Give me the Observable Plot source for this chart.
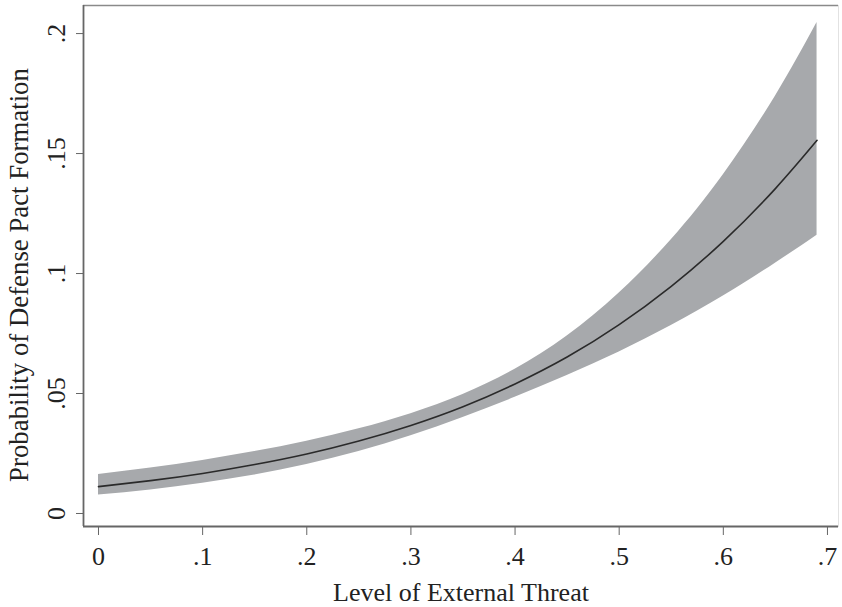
<!DOCTYPE html>
<html>
<head>
<meta charset="utf-8">
<script src="https://cdn.jsdelivr.net/npm/d3@7"></script>
<script src="https://cdn.jsdelivr.net/npm/@observablehq/plot@0.6"></script>
<style>
  html, body { margin: 0; padding: 0; background: #fff; }
</style>
</head>
<body>
<div id="chart"></div>
<script>
// Level of external threat (x)
const threat = [0, 0.05, 0.10, 0.15, 0.20, 0.25, 0.30, 0.35, 0.40, 0.45, 0.50, 0.55, 0.60, 0.65, 0.69];
// Predicted probability of defense pact formation
const prob   = [0.0112, 0.0137, 0.0167, 0.0204, 0.0248, 0.0302, 0.0367, 0.0445, 0.0540, 0.0652, 0.0787, 0.0947, 0.1134, 0.1354, 0.1555];
// 95% confidence band
const lower  = [0.0077, 0.0098, 0.0126, 0.0160, 0.0204, 0.0258, 0.0324, 0.0400, 0.0484, 0.0575, 0.0673, 0.0783, 0.0906, 0.1043, 0.1160];
const upper  = [0.0163, 0.0190, 0.0221, 0.0258, 0.0301, 0.0353, 0.0416, 0.0496, 0.0601, 0.0740, 0.0919, 0.1141, 0.1412, 0.1739, 0.2046];

const xTicks = [0, 0.1, 0.2, 0.3, 0.4, 0.5, 0.6, 0.7];
const xTickLabels = ["0", ".1", ".2", ".3", ".4", ".5", ".6", ".7"];
const yTicks = [0, 0.05, 0.1, 0.15, 0.2];
const yTickLabels = ["0", ".05", ".1", ".15", ".2"];
const xTitle = "Level of External Threat";
const yTitle = "Probability of Defense Pact Formation";

const data = threat.map((x, i) => ({x, p: prob[i], lo: lower[i], hi: upper[i]}));

const xDomain = [-0.0144, 0.7106];
const yDomain = [-0.00542, 0.2117];

const chart = Plot.plot({
  width: 842,
  height: 607,
  marginLeft: 83,
  marginRight: 4,
  marginTop: 5,
  marginBottom: 81,
  x: {domain: xDomain},
  y: {domain: yDomain},
  style: {
    fontFamily: "'Liberation Serif', 'Times New Roman', serif",
    fontSize: "26px",
    color: "#222",
    background: "#fff"
  },
  marks: [
    Plot.frame({stroke: "#e2e2e2", strokeWidth: 1}),
    Plot.ruleY([yDomain[1]], {stroke: "#8a8a8a", strokeWidth: 1.5}),
    Plot.areaY(data, {x: "x", y1: "lo", y2: "hi", fill: "#a7a9ac", curve: "natural"}),
    Plot.lineY(data, {x: "x", y: "p", stroke: "#2a2a2a", strokeWidth: 1.6, curve: "natural"}),
    Plot.axisX({
      ticks: xTicks,
      tickFormat: d => xTickLabels[xTicks.indexOf(d)],
      tickSize: 9,
      tickPadding: 11,
      stroke: "#666",
      label: null
    }),
    Plot.axisY({
      ticks: yTicks,
      tickFormat: d => yTickLabels[yTicks.indexOf(d)],
      tickSize: 7,
      tickPadding: 12,
      tickRotate: -90,
      stroke: "#666",
      label: null
    }),
    Plot.ruleX([xDomain[0]], {stroke: "#666", strokeWidth: 1.8}),
    Plot.ruleY([yDomain[0]], {stroke: "#666", strokeWidth: 1.8}),
    Plot.text([xTitle], {frameAnchor: "bottom", dy: 74, fontSize: 26, fill: "#222"}),
    Plot.text([yTitle], {frameAnchor: "left", dx: -64, dy: 9, rotate: -90, textAnchor: "middle", fontSize: 26.8, fill: "#222"})
  ]
});

document.getElementById("chart").appendChild(chart);
</script>
</body>
</html>
